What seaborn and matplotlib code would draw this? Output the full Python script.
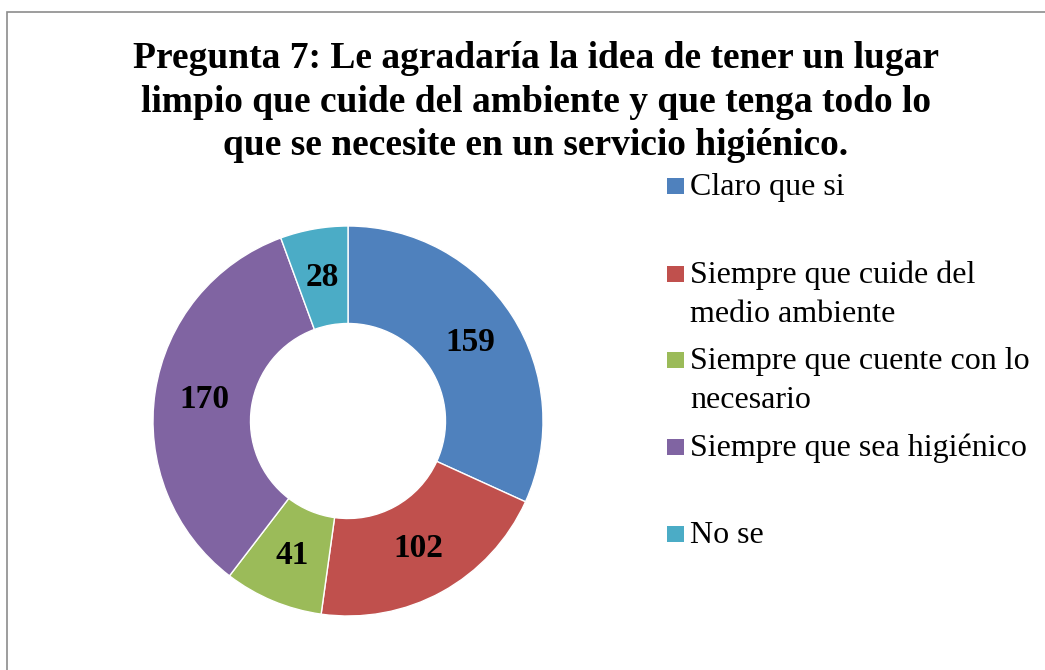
import matplotlib
matplotlib.use("Agg")
import matplotlib.pyplot as plt
import seaborn as sns
from matplotlib.patches import Rectangle

categories = [
    "Claro que si",
    "Siempre que cuide del\nmedio ambiente",
    "Siempre que cuente con lo\nnecesario",
    "Siempre que sea higiénico",
    "No se",
]
values = [159, 102, 41, 170, 28]
colors = ["#4F81BD", "#C0504D", "#9BBB59", "#8064A2", "#4BACC6"]
title = ("Pregunta 7: Le agradaría la idea de tener un lugar\n"
         "limpio que cuide del ambiente y que tenga todo lo\n"
         "que se necesite en un servicio higiénico.")

sns.set_theme(style="white")
plt.rcParams["font.family"] = ["Liberation Serif", "DejaVu Serif"]
plt.rcParams["text.color"] = "black"

W, H = 1045, 670
fig = plt.figure(figsize=(W / 100, H / 100), dpi=100)

# chart border (only top/left visible in the crop)
fig.patches.append(Rectangle((7 / W, -0.2), 1.2, 1.2 - 12 / H, transform=fig.transFigure,
                             fill=False, edgecolor="#8c8c8c", linewidth=1.2))

fig.text(536 / W, 1 - 102 / H, title, ha="center", va="center",
         fontsize=27, fontweight="bold", linespacing=1.33, color="black")

# donut
cx, cy, r = 348, 421, 195
ax = fig.add_axes([(cx - r) / W, (H - cy - r) / H, 2 * r / W, 2 * r / H])
wedges, _, autotexts = ax.pie(
    values, colors=colors, startangle=90, counterclock=False,
    autopct=lambda p: f"{round(p * sum(values) / 100):d}", pctdistance=0.745,
    wedgeprops=dict(width=0.5, edgecolor="white", linewidth=1),
    textprops=dict(fontsize=24, fontweight="bold", color="black"),
)
ax.set_xlim(-1, 1)
ax.set_ylim(-1, 1)
ax.set_aspect("equal")

# legend (baseline of the last line is used by matplotlib)
leg_y = [186, 273.5, 359.5, 447, 534]
line_px = 39
for lab, col, y in zip(categories, colors, leg_y):
    fig.patches.append(Rectangle((667 / W, 1 - (y + 8) / H), 17 / W, 16 / H,
                                 transform=fig.transFigure, facecolor=col,
                                 edgecolor="none"))
    n = lab.count("\n")
    fig.text(690 / W, 1 - (y + 9 + n * line_px) / H, lab, ha="left", va="baseline",
             fontsize=23, linespacing=1.42, color="black")

fig.savefig("out.png", dpi=100)
